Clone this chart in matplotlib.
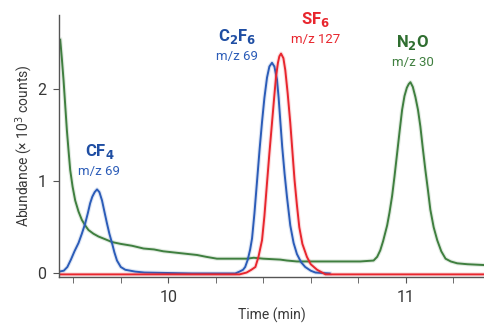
import numpy as np
import matplotlib
matplotlib.use("Agg")
import matplotlib.pyplot as plt
from matplotlib.ticker import MultipleLocator

plt.rcParams['font.family'] = ['Roboto', 'DejaVu Sans']

# traces (time in min, abundance in 10^3 counts)
blue_t = [9.54, 9.56, 9.575, 9.59, 9.605, 9.622, 9.636, 9.65, 9.661, 9.671, 9.68, 9.69, 9.70,
          9.71, 9.721, 9.731, 9.742, 9.752, 9.763, 9.773, 9.784, 9.80, 9.819, 9.861, 9.90,
          10.10, 10.282, 10.30, 10.315, 10.324, 10.335, 10.345, 10.353, 10.363, 10.374, 10.385,
          10.395, 10.405, 10.416, 10.426, 10.437, 10.447, 10.458, 10.465, 10.472, 10.48, 10.49,
          10.50, 10.514, 10.528, 10.542, 10.56, 10.577, 10.60, 10.62, 10.68]
blue_y = [0.02, 0.03, 0.07, 0.15, 0.24, 0.33, 0.43, 0.54, 0.65, 0.76, 0.83, 0.88, 0.91,
          0.88, 0.79, 0.67, 0.54, 0.43, 0.33, 0.23, 0.14, 0.07, 0.04, 0.02, 0.01,
          0.0, 0.0, 0.02, 0.04, 0.07, 0.15, 0.26, 0.38, 0.65, 1.00, 1.35,
          1.64, 1.90, 2.12, 2.24, 2.28, 2.24, 2.10, 1.90, 1.65, 1.37, 1.08,
          0.83, 0.52, 0.33, 0.21, 0.12, 0.07, 0.03, 0.01, 0.0]

red_t = [9.54, 10.0, 10.30, 10.33, 10.35, 10.367, 10.38, 10.395, 10.405, 10.416, 10.426,
         10.437, 10.446, 10.454, 10.462, 10.468, 10.475, 10.485, 10.493, 10.503, 10.514,
         10.523, 10.532, 10.542, 10.552, 10.565, 10.584, 10.60, 10.627, 10.662, 11.0, 11.34]
red_y = [-0.01, -0.01, -0.01, 0.01, 0.04, 0.07, 0.18, 0.36, 0.62, 0.98, 1.30,
         1.63, 1.90, 2.13, 2.28, 2.35, 2.38, 2.33, 2.20, 1.95, 1.63,
         1.32, 1.01, 0.74, 0.50, 0.32, 0.18, 0.10, 0.04, -0.01, -0.01, -0.01]

green_t = [9.545, 9.552, 9.559, 9.566, 9.573, 9.58, 9.587, 9.597, 9.608, 9.622, 9.636, 9.65,
           9.664, 9.685, 9.706, 9.735, 9.763, 9.80, 9.847, 9.896, 9.94, 9.979, 10.05, 10.121,
           10.16, 10.205, 10.27, 10.332, 10.36, 10.40, 10.472, 10.50, 10.542, 10.70, 10.809,
           10.865, 10.88, 10.893, 10.905, 10.915, 10.922, 10.932, 10.943, 10.953, 10.964, 10.975,
           10.985, 10.995, 11.005, 11.013, 11.02, 11.03, 11.041, 11.052, 11.062, 11.072, 11.083,
           11.094, 11.104, 11.118, 11.133, 11.15, 11.168, 11.19, 11.217, 11.26, 11.34]
green_y = [2.53, 2.32, 2.09, 1.82, 1.55, 1.33, 1.12, 0.94, 0.79, 0.67, 0.58, 0.52,
           0.47, 0.43, 0.40, 0.37, 0.34, 0.32, 0.30, 0.27, 0.26, 0.24, 0.22, 0.20,
           0.18, 0.16, 0.16, 0.16, 0.17, 0.16, 0.15, 0.14, 0.13, 0.13, 0.13,
           0.14, 0.18, 0.25, 0.35, 0.45, 0.52, 0.66, 0.84, 1.05, 1.30, 1.55,
           1.77, 1.92, 2.01, 2.05, 2.07, 2.02, 1.91, 1.77, 1.59, 1.36, 1.12,
           0.90, 0.69, 0.50, 0.36, 0.24, 0.16, 0.13, 0.11, 0.10, 0.09]

BLUE, RED, GREEN = '#2b5cb8', '#e8262e', '#3f7f3f'
BLUE_T, GREEN_T = '#1f4ea3', '#2f6e30'
GREY = '#555555'

fig = plt.figure(figsize=(4.84, 3.28), dpi=100)
ax = fig.add_axes([0.122, 0.155, 0.878, 0.80])

for t, y, c in [(green_t, green_y, GREEN), (blue_t, blue_y, BLUE), (red_t, red_y, RED)]:
    ax.plot(t, y, color=c, lw=3.0, alpha=0.15, solid_joinstyle='round')
    ax.plot(t, y, color=c, lw=1.4, solid_joinstyle='round')

ax.set_xlim(9.54, 11.33)
ax.set_ylim(-0.04, 2.8)
ax.xaxis.set_major_locator(MultipleLocator(1))
ax.xaxis.set_minor_locator(MultipleLocator(0.2))
ax.set_yticks([0, 1, 2])
for s in ['top', 'right']:
    ax.spines[s].set_visible(False)
for s in ['left', 'bottom']:
    ax.spines[s].set_color(GREY)
    ax.spines[s].set_linewidth(1.0)
ax.tick_params(which='both', colors=GREY, labelcolor='#383838', labelsize=11.5, length=4)
ax.tick_params(which='major', pad=5)
ax.set_xlabel('Time (min)', fontsize=10, color='#383838', labelpad=2)
ax.set_ylabel('Abundance (× 10$^3$ counts)', fontsize=10, color='#383838', labelpad=2)

labels = [
    (9.71, 1.32, r'CF$_\mathbf{4}$', 'm/z 69', BLUE_T, BLUE),
    (10.29, 2.57, r'C$_\mathbf{2}$F$_\mathbf{6}$', 'm/z 69', BLUE_T, BLUE),
    (10.62, 2.75, r'SF$_\mathbf{6}$', 'm/z 127', RED, RED),
    (11.03, 2.50, r'N$_\mathbf{2}$O', 'm/z 30', GREEN_T, GREEN),
]
for x, y, name, mz, c1, c2 in labels:
    ax.text(x, y, name, color=c1, fontsize=12, fontweight='bold', ha='center', va='center')
    ax.text(x, y - 0.22, mz, color=c2, fontsize=9.5, ha='center', va='center')

fig.savefig('out.png', dpi=100)
